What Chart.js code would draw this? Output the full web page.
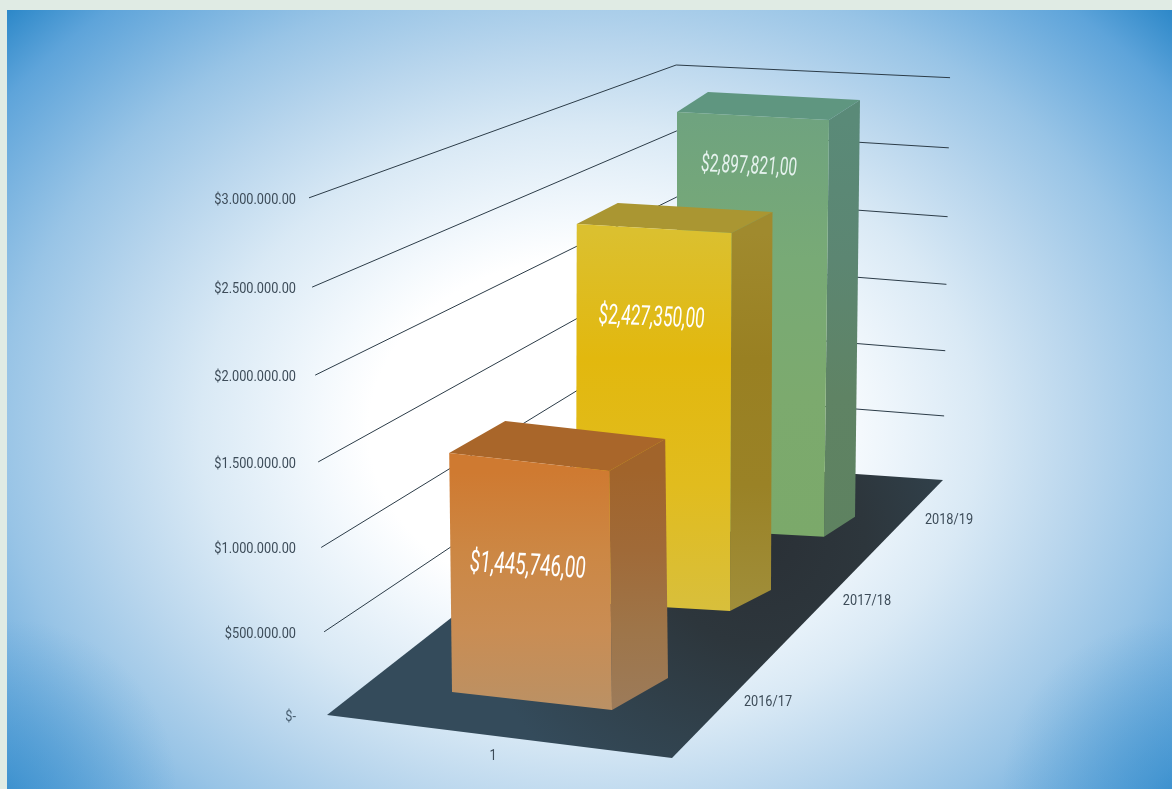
<!DOCTYPE html>
<html>
<head>
<meta charset="utf-8">
<style>
	html, body { margin: 0; padding: 0; background: #e0ebe4; overflow: hidden; }
	canvas { display: block; }
</style>
<script src="https://cdn.jsdelivr.net/npm/chart.js@4"></script>
</head>
<body>
<canvas id="myChart" width="1172" height="789"></canvas>
<script>
//setup
const seasons = ["2016/17", "2017/18", "2018/19"];
const amounts = [1445746, 2427350, 2897821];
const axisMax = 3000000;
const axisStep = 500000;
const frontLabel = "1";

//scene geometry: columns are [floor x, floor y, rise, bend]
const leanPoint = { x: 734, y: 12415 };
const columnFront = [327, 715, 495.6, 0.0417];
const columnBack = [678, 461, 396, 0];
const columnRight = [943, 480, 381, 0.053];
const floorCorners = [[327, 715], [672, 758], [943, 480], [653, 460]];
const laneStart = [452, 692];
const laneEnd = [1667, -190];
const laneBend = 8.8;

//bar sizes per season, front to back
const barWidths = [[160, 18], [154, 9], [147, 8]];
const barDepths = [[56, -32], [41, -21], [31, -20]];
const barRises = [486, 451.5, 414];
const barLeansLeft = [-0.0117, 0.002, 0];
const barLeansRight = [-0.0117, 0.004, 0.012];
const valueNudges = [-1.5, -2.5, -4];
const valueDrops = [105, 90, 51];
const valueSlopes = [0.06, 0.04, 0.045];
const valueFonts = [30, 28, 25];
const valueSpans = [116, 106, 96];
const seasonOffsets = [[316, 10], [291, -1], [272, -8]];

//face colours, stops run top to bottom
const frontStops = [
	["#cf7a31", "#cc8744", "#c98d54", "#ba9165"],
	["#dbc02f", "#e2b80e", "#e1bc1e", "#d8bf3c"],
	["#6fa37f", "#78aa76", "#7caa6e", "#7ba96a"],
];
const sideStops = [
	["#a1642b", "#a06a38", "#9e7549", "#9c7b5a"],
	["#a08a2e", "#998022", "#9a8226", "#a08e3a"],
	["#5a8a78", "#5c8672", "#5f8364", "#5e8260"],
];
const topColors = ["#a9662a", "#aa9632", "#5f9680"];

const rise = (col, dec) => (col[2] * dec) / (1 - col[3] * dec);

//lift a floor point straight up, verticals lean away from leanPoint
const lift = (p, px) => {
	const k = px / (leanPoint.y - p[1]);
	return [p[0] + (p[0] - leanPoint.x) * k, p[1] - px];
};

const columnPoint = (col, dec) => lift([col[0], col[1]], rise(col, dec));

const polygon = (ctx, pts, fill) => {
	ctx.beginPath();
	pts.forEach((p, i) => (i ? ctx.lineTo(p[0], p[1]) : ctx.moveTo(p[0], p[1])));
	ctx.closePath();
	ctx.fillStyle = fill;
	ctx.fill();
};

const faceGradient = (ctx, from, to, stops) => {
	const g = ctx.createLinearGradient(from[0], from[1], to[0], to[1]);
	stops.forEach((c, i) => g.addColorStop(i / (stops.length - 1), c));
	return g;
};

//narrow text, Roboto squeezed sideways
const narrowText = (ctx, text, x, y, squeeze) => {
	ctx.save();
	ctx.translate(x, y);
	ctx.scale(squeeze, 1);
	ctx.fillText(text, 0, 0);
	ctx.restore();
};

const money = (v) => "$" + v.toString().replace(/\B(?=(\d{3})+$)/g, ",") + ",00";

//backdrop
const backdrop = {
	id: "backdrop",
	beforeDraw(chart) {
		const { ctx, width, height } = chart;
		ctx.save();
		ctx.fillStyle = "#e0ebe4";
		ctx.fillRect(0, 0, width, height);
		ctx.beginPath();
		ctx.rect(7, 10, width - 7, height - 10);
		ctx.clip();

		ctx.save();
		ctx.translate(590, 430);
		ctx.scale(1, 0.78);
		const g = ctx.createRadialGradient(0, 0, 0, 0, 0, 820);
		g.addColorStop(0, "#ffffff");
		g.addColorStop(0.27, "#ffffff");
		g.addColorStop(0.33, "#f4f9fd");
		g.addColorStop(0.475, "#d9e9f5");
		g.addColorStop(0.6, "#b9d6ed");
		g.addColorStop(0.72, "#98c4e6");
		g.addColorStop(0.88, "#5ea4da");
		g.addColorStop(0.97, "#2b87c8");
		ctx.fillStyle = g;
		ctx.fillRect(-600, -620, 1200, 1240);
		ctx.restore();

		//the lower corners run darker than the round falloff
		[[7, 789], [1172, 789]].forEach((c) => {
			const v = ctx.createRadialGradient(c[0], c[1], 0, c[0], c[1], 170);
			v.addColorStop(0, "rgba(43,135,200,0.5)");
			v.addColorStop(1, "rgba(43,135,200,0)");
			ctx.fillStyle = v;
			ctx.fillRect(c[0] - 170, c[1] - 170, 340, 340);
		});
		ctx.restore();
	},
};

//floor and wall lines
const scene = {
	id: "scene",
	beforeDatasetsDraw(chart) {
		const { ctx, scales: { y } } = chart;
		ctx.save();

		const floor = ctx.createRadialGradient(760, 540, 0, 760, 540, 300);
		floor.addColorStop(0, "#2a3036");
		floor.addColorStop(0.35, "#2d363c");
		floor.addColorStop(0.7, "#31424d");
		floor.addColorStop(1, "#344b5b");
		polygon(ctx, floorCorners, floor);

		ctx.strokeStyle = "#2c3c48";
		ctx.lineWidth = 1;
		ctx.font = "14px Roboto";
		ctx.textAlign = "right";
		ctx.textBaseline = "middle";
		y.ticks.forEach((tick) => {
			const dec = y.getDecimalForPixel(y.getPixelForValue(tick.value));
			if (tick.value > 0) {
				const a = columnPoint(columnFront, dec);
				const b = columnPoint(columnBack, dec);
				const c = columnPoint(columnRight, dec);
				ctx.beginPath();
				ctx.moveTo(a[0], a[1]);
				ctx.lineTo(b[0], b[1]);
				ctx.lineTo(c[0], c[1]);
				ctx.stroke();
			}
			ctx.fillStyle = tick.value > 0 ? "#3d4c59" : "#4a6072";
			narrowText(ctx, tick.label, 296, columnPoint(columnFront, dec)[1] + 2.5, 0.91);
		});

		ctx.textAlign = "center";
		ctx.fillStyle = "#3d4c59";
		narrowText(ctx, frontLabel, 493, 756, 0.91);
		ctx.restore();
	},
};

//bars as boxes, sitting on the floor lane picked by the x scale
const boxes = {
	id: "boxes",
	afterDatasetsDraw(chart) {
		const { ctx, scales: { x, y } } = chart;
		const bars = chart.getDatasetMeta(0).data;
		ctx.save();
		for (let i = bars.length - 1; i >= 0; i--) {
			const t = x.getDecimalForPixel(bars[i].x) * bars.length - 0.5;
			const lane = t / (t + laneBend);
			const foot = [
				laneStart[0] + (laneEnd[0] - laneStart[0]) * lane,
				laneStart[1] + (laneEnd[1] - laneStart[1]) * lane,
			];
			const w = barWidths[i];
			const d = barDepths[i];
			const px = rise([0, 0, barRises[i], columnFront[3]], y.getDecimalForPixel(bars[i].y));
			const upLeft = (p) => [p[0] + px * barLeansLeft[i], p[1] - px];
			const upRight = (p) => [p[0] + px * barLeansRight[i], p[1] - px];

			const bl = foot;
			const br = [foot[0] + w[0], foot[1] + w[1]];
			const bb = [br[0] + d[0], br[1] + d[1]];
			const tl = upLeft(bl);
			const tr = upRight(br);
			const tb = upRight(bb);
			const tf = upLeft([bl[0] + d[0], bl[1] + d[1]]);

			polygon(ctx, [tl, tr, tb, tf], topColors[i]);
			polygon(ctx, [tr, tb, bb, br], faceGradient(ctx, tr, br, sideStops[i]));
			polygon(ctx, [tl, tr, br, bl], faceGradient(ctx, tr, br, frontStops[i]));

			//value printed on the front face
			const cx = (tl[0] + tr[0]) / 2 + valueNudges[i];
			const cy = (tl[1] + tr[1]) / 2 + valueDrops[i];
			ctx.save();
			ctx.font = "italic 400 " + valueFonts[i] + "px Roboto";
			ctx.textAlign = "center";
			ctx.textBaseline = "middle";
			ctx.fillStyle = i === 2 ? "#e6f2ee" : "#ffffff";
			const text = money(amounts[i]);
			ctx.translate(cx, cy);
			ctx.transform(1, valueSlopes[i], 0, 1, 0, 0);
			ctx.scale(valueSpans[i] / ctx.measureText(text).width, 1);
			ctx.fillText(text, 0, 0);
			ctx.restore();

			//season name beside the floor
			ctx.font = "14px Roboto";
			ctx.textAlign = "center";
			ctx.textBaseline = "middle";
			ctx.fillStyle = "#3d4c59";
			narrowText(ctx, seasons[i], foot[0] + seasonOffsets[i][0], foot[1] + seasonOffsets[i][1], 0.91);
		}
		ctx.restore();
	},
};

//config
const config = {
	type: "bar",
	data: {
		labels: seasons,
		datasets: [
			{
				data: amounts,
				backgroundColor: "rgba(0,0,0,0)",
				borderWidth: 0,
			},
		],
	},
	options: {
		responsive: false,
		animation: false,
		layout: { padding: 0 },
		plugins: {
			legend: { display: false },
			tooltip: { enabled: false },
			title: { display: false },
		},
		scales: {
			x: { display: false },
			y: {
				display: false,
				min: 0,
				max: axisMax,
				ticks: {
					stepSize: axisStep,
					callback: (v) => (v === 0 ? "$-" : "$" + v.toLocaleString("de-DE") + ".00"),
				},
			},
		},
	},
	plugins: [backdrop, scene, boxes],
};

//render init
const myChart = new Chart(document.getElementById("myChart"), config);
</script>
</body>
</html>
